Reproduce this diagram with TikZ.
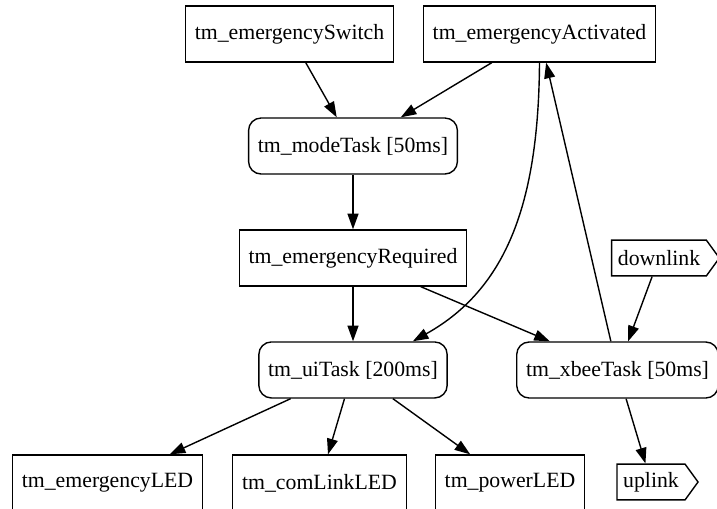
\documentclass[tikz,border=0pt]{standalone}
\usepackage{fontspec}
\setmainfont{Liberation Serif}
\usetikzlibrary{arrows.meta,positioning,shapes.symbols}

\begin{document}
\begin{tikzpicture}[x=0.643pt, y=-0.643pt, node distance=72pt,
  >={Triangle[length=10pt,width=7pt]},
  every node/.style={font=\fontsize{14}{16}\selectfont},
  box/.style={draw, line width=0.9pt, rectangle, minimum height=36pt, inner xsep=6pt},
  task/.style={box, rounded corners=8pt},
  port/.style={draw, line width=0.9pt, signal, signal to=east, signal pointer angle=108,
    minimum height=23pt, inner xsep=4pt, inner ysep=2pt}]
\useasboundingbox (0,0) rectangle (717,508);

\node [box] (m_switch) at (289.5,34) {tm\_emergencySwitch};
\node [box] (m_act) at (539.5,34) {tm\_emergencyActivated};
\node [task] (t_mode) at (353,146) {tm\_modeTask [50ms]};
\node [box] (m_req) [below of=t_mode] {tm\_emergencyRequired};
\node [task] (t_ui) [below of=m_req] {tm\_uiTask [200ms]};
\node [task] (t_xbee) at (617.5,370) {tm\_xbeeTask [50ms]};
\node [port] (p_down) at (659,258) {downlink};
\node [box] (m_eled) at (107.5,483) {tm\_emergencyLED};
\node [box] (m_cled) at (319.5,483) {tm\_comLinkLED};
\node [box] (m_pled) at (510,483) {tm\_powerLED};
\node [port] (p_up) at (651,482) {uplink};

\path [->, line width=0.9pt]
(m_switch) edge (t_mode)
(m_act) edge (t_mode)
(t_mode) edge (m_req)
(m_req) edge (t_ui)
        edge (t_xbee)
(p_down) edge (t_xbee)
(t_xbee) edge (m_act)
         edge (p_up)
(t_ui) edge (m_eled)
       edge (m_cled)
       edge (m_pled);

% curved link from the activated flag down to the ui task
\draw [->, line width=0.9pt] (m_act.south) .. controls +(-1,138) and +(95,-53)
  .. ([xshift=-22.5pt]t_ui.north east);
\end{tikzpicture}
\end{document}
